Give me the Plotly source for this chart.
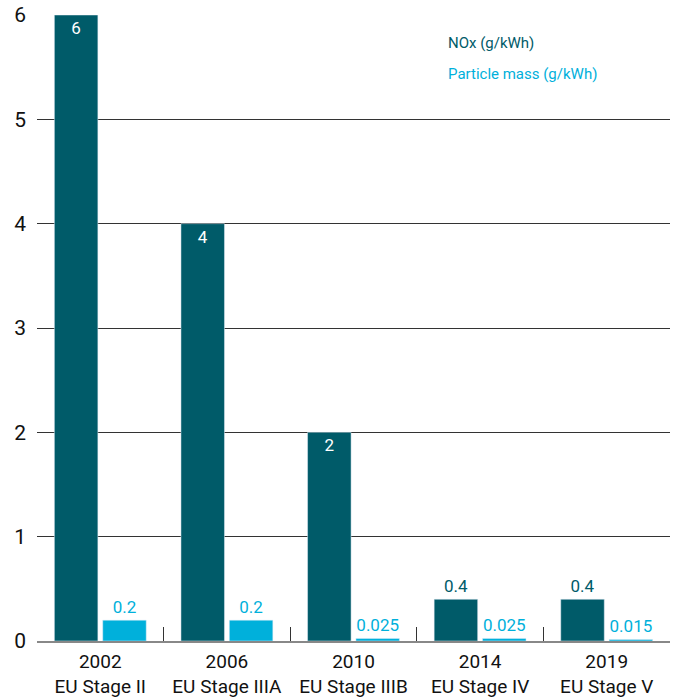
import plotly.graph_objects as go

years = ["2002", "2006", "2010", "2014", "2019"]
stages = ["EU Stage II", "EU Stage IIIA", "EU Stage IIIB", "EU Stage IV", "EU Stage V"]
nox = [6, 4, 2, 0.4, 0.4]
pm = [0.2, 0.2, 0.025, 0.025, 0.015]
nox_labels = ["6", "4", "2", "0.4", "0.4"]
pm_labels = ["0.2", "0.2", "0.025", "0.025", "0.015"]

cats = [f"{y}<br>{s}" for y, s in zip(years, stages)]
NOX_C = "#005b69"
PM_C = "#00b0db"
FONT = "Roboto, sans-serif"

fig = go.Figure()
fig.add_bar(x=cats, y=nox, name="NOx (g/kWh)", marker_color=NOX_C,
            text=nox_labels, textposition=["inside", "inside", "inside", "outside", "outside"],
            insidetextanchor="end",
            insidetextfont=dict(color="white", size=17, family=FONT),
            outsidetextfont=dict(color=NOX_C, size=17, family=FONT),
            cliponaxis=False)
fig.add_bar(x=cats, y=pm, name="Particle mass (g/kWh)", marker_color=PM_C,
            text=pm_labels, textposition="outside",
            outsidetextfont=dict(color=PM_C, size=17, family=FONT),
            cliponaxis=False)

fig.add_annotation(x=0.646, y=0.955, xref="paper", yref="paper", xanchor="left", yanchor="middle",
                   text="NOx (g/kWh)", showarrow=False, font=dict(color=NOX_C, size=15, family=FONT))
fig.add_annotation(x=0.646, y=0.905, xref="paper", yref="paper", xanchor="left", yanchor="middle",
                   text="Particle mass (g/kWh)", showarrow=False, font=dict(color=PM_C, size=15, family=FONT))

fig.update_layout(
    width=676, height=700,
    margin=dict(l=37, r=6, t=15, b=59),
    plot_bgcolor="white", paper_bgcolor="white",
    barmode="group", bargap=0.236, bargroupgap=0.1,
    showlegend=False,
    font=dict(family=FONT, color="#111111"),
    xaxis=dict(showgrid=False, ticks="inside", tickson="boundaries", ticklen=14,
               tickcolor="#333333", showline=True, linecolor="#888888", linewidth=2,
               automargin=False, ticklabelstandoff=2,
               tickfont=dict(size=19, family=FONT, color="#111111")),
    yaxis=dict(range=[0, 6], dtick=1, showgrid=True, gridcolor="#333333", gridwidth=1,
               zeroline=False, showline=False, ticks="", ticklabelstandoff=10,
               automargin=False,
               tickfont=dict(size=21, family=FONT, color="#111111")),
)
fig.write_html("out.html", config={"displayModeBar": False},
               post_script="document.body.style.margin='0';document.body.style.overflow='hidden';")
